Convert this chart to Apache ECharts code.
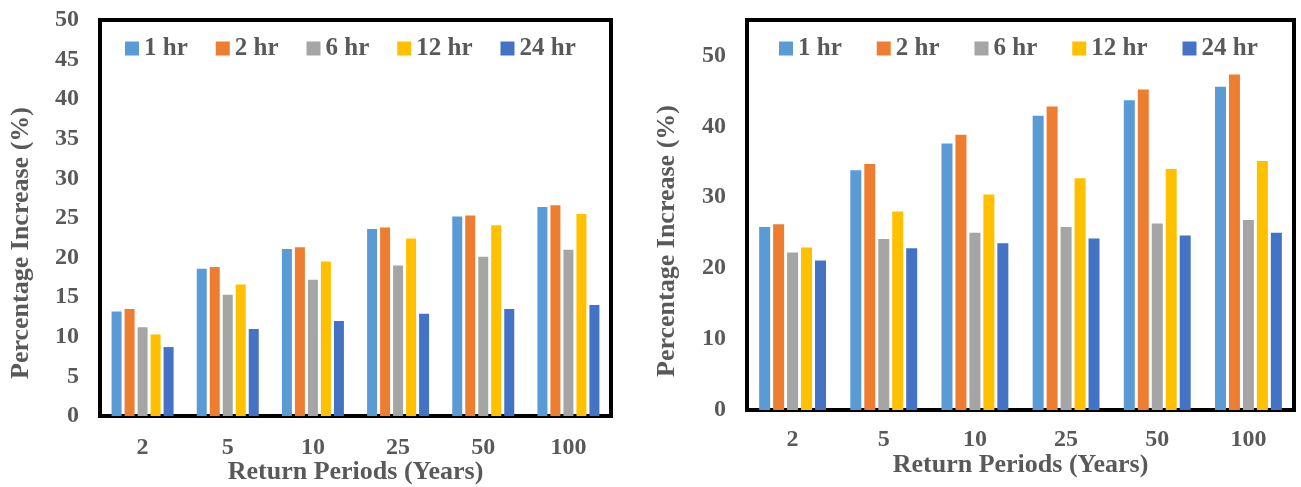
<!DOCTYPE html>
<html>
<head>
<meta charset="utf-8">
<script src="https://cdn.jsdelivr.net/npm/echarts@6/dist/echarts.min.js"></script>
<style>
  html, body { margin: 0; padding: 0; background: #fff; }
  #chart { width: 1301px; height: 487px; }
</style>
</head>
<body>
<div id="chart"></div>
<script>
// Return periods (years) on the category axis
const categories = ['2', '5', '10', '25', '50', '100'];
// Storm durations
const durations = ['1 hr', '2 hr', '6 hr', '12 hr', '24 hr'];
const durationColors = ['#5B9BD5', '#ED7D31', '#A5A5A5', '#FFC000', '#4472C4'];

// Left panel: percentage increase by duration
const leftHr1  = [13.2, 18.6, 21.1, 23.6, 25.2, 26.4];
const leftHr2  = [13.5, 18.8, 21.3, 23.8, 25.3, 26.6];
const leftHr6  = [11.2, 15.3, 17.2, 19.0, 20.1, 21.0];
const leftHr12 = [10.3, 16.6, 19.5, 22.4, 24.1, 25.5];
const leftHr24 = [8.7, 11.0, 12.0, 12.9, 13.5, 14.0];

// Right panel: percentage increase by duration
const rightHr1  = [25.8, 33.8, 37.6, 41.5, 43.7, 45.6];
const rightHr2  = [26.2, 34.7, 38.8, 42.8, 45.2, 47.3];
const rightHr6  = [22.2, 24.1, 25.0, 25.8, 26.3, 26.8];
const rightHr12 = [22.9, 28.0, 30.4, 32.7, 34.0, 35.1];
const rightHr24 = [21.1, 22.8, 23.5, 24.2, 24.6, 25.0];

const yTitle = 'Percentage Increase (%)';
const xTitle = 'Return Periods (Years)';

const FONT = '"Liberation Serif", "Times New Roman", serif';
const TEXT = '#595959';

const leftSets = [leftHr1, leftHr2, leftHr6, leftHr12, leftHr24];
const rightSets = [rightHr1, rightHr2, rightHr6, rightHr12, rightHr24];

function makeSeries(sets, axisIndex, barWidth, barGap) {
  return sets.map((vals, i) => ({
    name: durations[i],
    type: 'bar',
    xAxisIndex: axisIndex,
    yAxisIndex: axisIndex,
    data: vals,
    barWidth: barWidth,
    barGap: barGap,
    itemStyle: { color: durationColors[i] },
    emphasis: { disabled: true }
  }));
}

function xAxisFor(gridIndex, labelMargin, nameGap) {
  return {
    type: 'category',
    gridIndex: gridIndex,
    data: categories,
    axisLine: { show: false },
    axisTick: { show: false },
    axisLabel: { margin: labelMargin, fontFamily: FONT, fontWeight: 'bold', fontSize: 24, color: TEXT },
    name: xTitle,
    nameLocation: 'middle',
    nameGap: nameGap,
    nameMoveOverlap: false,
    nameTextStyle: { fontFamily: FONT, fontWeight: 'bold', fontSize: 26, color: TEXT }
  };
}

function yAxisFor(gridIndex, max, interval) {
  return {
    type: 'value',
    gridIndex: gridIndex,
    min: 0,
    max: max,
    interval: interval,
    axisLine: { show: false },
    axisTick: { show: false },
    splitLine: { show: false },
    axisLabel: {
      margin: 21,
      fontFamily: FONT, fontWeight: 'bold', fontSize: 24, color: TEXT,
      formatter: v => (v % interval === 0 ? String(v) : '')
    }
  };
}

function legendFor(left, gap) {
  return {
    data: durations,
    left: left,
    top: 31,
    icon: 'rect',
    itemWidth: 14,
    itemHeight: 14,
    itemGap: gap,
    selectedMode: false,
    textStyle: { fontFamily: FONT, fontWeight: 'bold', fontSize: 25, color: TEXT }
  };
}

function yTitleText(x, y) {
  return {
    type: 'text',
    x: x,
    y: y,
    rotation: Math.PI / 2,
    style: {
      text: yTitle,
      fontFamily: FONT, fontWeight: 'bold', fontSize: 26, fill: TEXT,
      align: 'center', verticalAlign: 'middle'
    }
  };
}

const chart = echarts.init(document.getElementById('chart'), null, { renderer: 'canvas' });
chart.setOption({
  animation: false,
  color: durationColors,
  grid: [
    { left: 100, top: 20, width: 511, height: 396, outerBoundsMode: 'none', containLabel: false,
      show: true, borderColor: '#000', borderWidth: 4, backgroundColor: 'transparent' },
    { left: 747, top: 20, width: 547, height: 390, outerBoundsMode: 'none', containLabel: false,
      show: true, borderColor: '#000', borderWidth: 4, backgroundColor: 'transparent' }
  ],
  legend: [legendFor(120, 28), legendFor(774, 35)],
  xAxis: [xAxisFor(0, 20, 43), xAxisFor(1, 18, 42)],
  yAxis: [yAxisFor(0, 50, 5), yAxisFor(1, 55, 10)],
  graphic: [yTitleText(21, 243), yTitleText(667, 241)],
  series: [
    ...makeSeries(leftSets, 0, 10, '30%'),
    ...makeSeries(rightSets, 1, 11, '27%')
  ]
});
</script>
</body>
</html>
